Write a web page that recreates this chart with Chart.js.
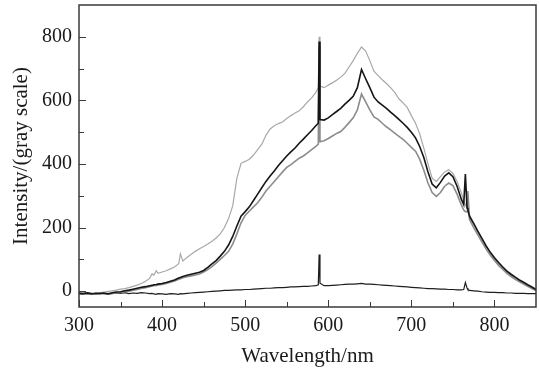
<!DOCTYPE html>
<html>
<head>
<meta charset="utf-8">
<script src="https://cdn.jsdelivr.net/npm/chart.js@4/dist/chart.umd.min.js"></script>
<style>
  html, body { margin: 0; padding: 0; background: #fff; }
  #wrap { width: 540px; height: 370px; }
</style>
</head>
<body>
<div id="wrap"><canvas id="chartSpec" width="540" height="370"></canvas></div>
<script>
// Comprimentos de onda (nm), passo de 5 com pontos extra nos picos
const wavelengths = [
  300,305,310,315,320,325,330,335,340,345,
  350,355,360,365,370,375,380,385,388,390,393,395,
  400,405,410,415,420,422,425,430,435,440,445,
  450,455,460,465,470,475,480,485,490,495,
  500,505,510,515,520,525,530,535,540,545,
  550,555,560,565,570,575,580,585,588,589,590,595,
  600,605,610,615,620,625,630,635,640,645,
  650,655,660,665,670,675,680,685,690,695,
  700,705,710,715,720,725,730,735,740,745,
  750,755,760,763,765,767,768,770,775,780,785,790,795,
  800,805,810,815,820,825,830,835,840,845,850
];

// Curva cinza clara (superior)
const curvaClara = [
  -8,-9,-7,-8,-6,-5,-3,-1,1,3,
  6,8,11,15,19,24,31,40,55,50,64,56,
  60,64,70,76,86,117,95,106,116,125,133,
  140,148,157,167,180,200,228,268,355,402,
  408,415,428,445,462,490,510,520,527,532,
  543,552,560,567,580,595,608,625,640,800,645,640,
  648,655,663,673,685,705,725,748,768,755,
  725,692,678,665,653,640,625,605,592,578,
  552,528,495,450,400,355,345,360,375,382,
  370,345,310,285,272,262,256,240,215,190,165,142,120,
  102,86,72,60,50,40,32,24,16,9,3
];

// Curva preta (meio)
const curvaPreta = [
  -7,-8,-6,-9,-7,-8,-6,-9,-5,-3,
  -2,1,3,6,9,12,14,17,18,20,21,22,
  24,27,31,35,41,43,46,50,53,56,59,
  65,75,86,96,110,125,145,172,205,236,
  250,265,285,305,325,345,362,378,395,410,
  425,438,450,465,478,492,505,520,528,785,540,538,
  545,555,565,575,588,600,613,640,697,668,
  640,610,595,585,575,563,552,540,528,515,
  500,482,455,420,375,337,325,342,362,372,
  360,330,290,272,368,262,255,235,212,188,165,142,122,
  105,90,76,63,53,44,35,28,20,13,5
];

// Curva cinza média (inferior)
const curvaCinza = [
  -9,-8,-10,-8,-9,-7,-8,-10,-7,-5,
  -4,-2,0,3,5,8,11,14,16,17,18,19,
  21,24,28,32,37,39,42,45,48,51,54,
  60,68,77,88,100,112,125,148,180,215,
  238,252,265,278,295,315,330,345,360,375,
  389,398,408,418,425,435,445,455,462,770,470,473,
  480,488,496,502,515,530,545,570,620,595,
  570,548,540,528,517,507,497,487,477,465,
  452,440,415,380,340,310,298,310,330,340,
  332,305,272,255,250,250,315,225,200,177,154,132,113,
  96,81,68,56,46,37,29,22,15,8,2
];

// Curva de fundo (perto de zero)
const curvaFundo = [
  -6,-8,-5,-7,-9,-6,-8,-7,-8,-6,
  -7,-5,-8,-6,-7,-5,-6,-8,-7,-9,-10,-8,
  -9,-10,-8,-9,-10,-8,-9,-7,-6,-5,-4,
  -3,-2,-1,0,1,2,2,3,4,4,
  5,5,6,7,8,9,9,10,11,11,
  12,13,13,14,15,15,16,17,20,115,25,17,
  17,18,19,20,21,22,22,23,24,22,
  22,21,20,19,18,17,16,15,14,13,
  12,11,10,9,8,8,7,6,6,5,
  5,4,4,5,27,10,5,2,1,0,-2,-3,-4,
  -4,-5,-5,-6,-6,-7,-7,-7,-8,-8,-8
];

// Marcas dos eixos
const xTicks = [300, 400, 500, 600, 700, 800];
const xMinor = [350, 450, 550, 650, 750];
const yTicks = [0, 200, 400, 600, 800];
const yMinor = [100, 300, 500, 700];

const fonte = 'Liberation Serif, Times New Roman, serif';

function pontos(valores) {
  return wavelengths.map((w, i) => ({ x: w, y: valores[i] }));
}

// Moldura e marcas para dentro
const molduraPlugin = {
  id: 'moldura',
  afterDraw(chart) {
    const { ctx, chartArea: a, scales } = chart;
    ctx.save();
    ctx.strokeStyle = '#3a3a3a';
    ctx.lineWidth = 1;
    ctx.beginPath();
    xTicks.forEach((v) => {
      const px = Math.round(scales.x.getPixelForValue(v)) + 0.5;
      ctx.moveTo(px, a.bottom); ctx.lineTo(px, a.bottom - 7);
    });
    xMinor.forEach((v) => {
      const px = Math.round(scales.x.getPixelForValue(v)) + 0.5;
      ctx.moveTo(px, a.bottom); ctx.lineTo(px, a.bottom - 5);
    });
    yTicks.forEach((v) => {
      const py = Math.round(scales.y.getPixelForValue(v)) + 0.5;
      ctx.moveTo(a.left, py); ctx.lineTo(a.left + 7, py);
    });
    yMinor.forEach((v) => {
      const py = Math.round(scales.y.getPixelForValue(v)) + 0.5;
      ctx.moveTo(a.left, py); ctx.lineTo(a.left + 5, py);
    });
    ctx.stroke();
    ctx.lineWidth = 1.5;
    ctx.strokeRect(a.left, a.top, a.right - a.left, a.bottom - a.top);
    ctx.restore();
  }
};

const ctx = document.getElementById('chartSpec').getContext('2d');
new Chart(ctx, {
  type: 'line',
  data: {
    datasets: [
      { data: pontos(curvaPreta), borderColor: '#151515', borderWidth: 1.6 },
      { data: pontos(curvaCinza), borderColor: '#8c8c8c', borderWidth: 1.6 },
      { data: pontos(curvaClara), borderColor: '#a8a8a8', borderWidth: 1.2 },
      { data: pontos(curvaFundo), borderColor: '#1e1e1e', borderWidth: 1.2 }
    ]
  },
  options: {
    responsive: false,
    animation: false,
    events: [],
    parsing: false,
    layout: { padding: { top: 5, right: 4, left: 0, bottom: 0 } },
    elements: { point: { radius: 0 }, line: { tension: 0 } },
    plugins: { legend: { display: false }, tooltip: { enabled: false } },
    scales: {
      x: {
        type: 'linear',
        min: 300,
        max: 850,
        afterBuildTicks: (s) => { s.ticks = xTicks.map((v) => ({ value: v })); },
        afterFit: (s) => { s.height = 63; s.paddingLeft = 0; s.paddingRight = 0; },
        grid: { display: false, drawTicks: false },
        border: { display: false },
        ticks: { color: '#1a1a1a', padding: 7, font: { family: fonte, size: 20 } },
        title: {
          display: true,
          text: 'Wavelength/nm',
          color: '#1a1a1a',
          padding: { top: 0, bottom: 1 },
          font: { family: fonte, size: 21 }
        }
      },
      y: {
        type: 'linear',
        min: -50,
        max: 900,
        afterBuildTicks: (s) => { s.ticks = yTicks.map((v) => ({ value: v })); },
        afterFit: (s) => { s.width = 79; s.paddingTop = 0; s.paddingBottom = 0; },
        grid: { display: false, drawTicks: false },
        border: { display: false },
        ticks: { color: '#1a1a1a', padding: 7, font: { family: fonte, size: 20 } },
        title: {
          display: true,
          text: 'Intensity/(gray scale)',
          color: '#1a1a1a',
          padding: { top: 9, bottom: 0 },
          font: { family: fonte, size: 21 }
        }
      }
    }
  },
  plugins: [molduraPlugin]
});
</script>
</body>
</html>
